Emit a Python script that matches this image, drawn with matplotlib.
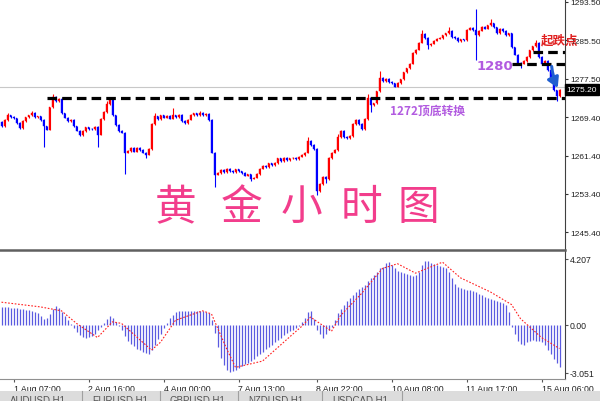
import numpy as np
import matplotlib.pyplot as plt
from matplotlib.patches import Rectangle
from matplotlib.lines import Line2D

plt.rcParams['font.family'] = ['Liberation Sans', 'Noto Sans CJK SC']

# hourly closes, gold
close = [1267.6, 1268.8, 1269.8, 1269.5, 1269.2, 1268.2, 1267.1, 1268.6, 1269.4, 1269.8,
         1270.3, 1269.4, 1269.6, 1268.8, 1267.5, 1266.8, 1271.5, 1273.6, 1272.8, 1273.2,
         1270.2, 1269.3, 1268.6, 1268.9, 1267.5, 1266.6, 1265.6, 1266.5, 1267.3, 1267.0,
         1266.9, 1267.4, 1265.8, 1269.0, 1270.5, 1272.2, 1273.0, 1269.8, 1267.8, 1266.5,
         1266.2, 1262.0, 1262.4, 1263.0, 1262.2, 1263.0, 1262.6, 1262.0, 1261.6, 1262.8,
         1268.0, 1269.6, 1269.0, 1269.8, 1269.3, 1269.7, 1269.1, 1269.8, 1269.4, 1269.9,
         1268.6, 1268.2, 1268.9, 1269.9, 1270.2, 1269.8, 1270.3, 1269.9, 1270.1, 1268.8,
         1262.0, 1257.4, 1257.8, 1258.4, 1258.0, 1258.6, 1258.2, 1257.9, 1258.5, 1258.1,
         1257.8, 1257.2, 1257.5, 1256.6, 1256.8, 1257.6, 1258.7, 1259.3, 1259.0, 1259.8,
         1259.4, 1259.9, 1260.8, 1260.3, 1260.9, 1260.5, 1260.8, 1261.0, 1260.6, 1261.2,
         1261.5, 1262.0, 1264.5, 1263.6, 1262.8, 1254.0, 1255.5, 1257.0, 1256.5, 1260.9,
         1262.0, 1262.6, 1265.2, 1266.5, 1265.3, 1265.0, 1265.5, 1268.0, 1268.9, 1268.0,
         1267.0, 1269.0, 1273.4, 1272.0, 1272.3, 1274.8, 1277.6, 1277.0, 1277.4, 1276.8,
         1276.5, 1275.8, 1276.6, 1277.3, 1278.8, 1279.6, 1280.6, 1282.8, 1283.5, 1285.0,
         1286.8, 1286.0, 1284.5, 1284.8, 1285.4, 1285.8, 1286.0, 1286.5, 1286.9, 1287.5,
         1286.2, 1286.0, 1285.3, 1285.7, 1285.5, 1287.7, 1288.1, 1287.6, 1286.5, 1287.5,
         1288.3, 1287.9, 1288.6, 1289.0, 1288.2, 1287.0, 1287.8, 1287.4, 1286.5, 1286.9,
         1284.0, 1282.5, 1280.8, 1280.6, 1281.2, 1282.0, 1283.4, 1284.2, 1285.0, 1282.0,
         1280.5, 1281.2, 1279.2, 1277.5, 1275.0, 1273.8, 1275.2]
first_open = 1268.4
wick_hi = {2: 1270.4, 10: 1270.8, 17: 1274.3, 35: 1272.8, 51: 1270.3, 57: 1271.4,
           66: 1270.8, 102: 1265.2, 112: 1266.0, 122: 1274.2, 126: 1279.0, 140: 1287.6,
           149: 1288.2, 158: 1292.0, 163: 1290.0, 178: 1285.6}
wick_lo = {14: 1263.2, 32: 1263.2, 41: 1257.6, 48: 1261.0, 71: 1254.9, 83: 1256.0,
           105: 1253.2, 108: 1255.6, 123: 1270.6, 142: 1283.6, 158: 1281.3, 173: 1279.6,
           185: 1272.8}

macd = [1.15, 1.15, 1.12, 1.10, 1.08, 1.05, 1.02, 1.00, 0.98, 0.95,
        0.92, 0.85, 0.75, 0.55, 0.40, 0.42, 0.70, 1.00, 1.20, 1.10,
        0.85, 0.60, 0.30, 0.05, -0.20, -0.45, -0.65, -0.75, -0.80, -0.75,
        -0.70, -0.55, -0.35, -0.10, 0.15, 0.35, 0.55, 0.45, 0.20, -0.05,
        -0.35, -0.70, -1.00, -1.20, -1.35, -1.50, -1.60, -1.70, -1.80, -1.85,
        -1.60, -1.25, -0.90, -0.55, -0.20, 0.15, 0.45, 0.65, 0.80, 0.88,
        0.92, 0.92, 0.90, 0.88, 0.90, 0.88, 0.90, 0.88, 0.85, 0.75,
        0.30, -0.50, -1.40, -2.10, -2.55, -2.85, -3.00, -2.95, -2.85, -2.75,
        -2.60, -2.50, -2.40, -2.30, -2.15, -2.00, -1.85, -1.70, -1.55, -1.40,
        -1.25, -1.10, -0.95, -0.80, -0.65, -0.50, -0.40, -0.30, -0.20, -0.05,
        0.20, 0.45, 0.80, 0.90, 0.40, -0.30, -0.60, -0.80, -0.55, -0.30,
        -0.10, 0.30, 0.75, 1.00, 1.30, 1.50, 1.70, 1.90, 2.10, 2.30,
        2.40, 2.55, 2.80, 3.00, 3.20, 3.40, 3.60, 3.70, 3.95, 4.00,
        3.85, 3.60, 3.45, 3.35, 3.30, 3.25, 3.20, 3.15, 3.20, 3.40,
        3.80, 4.10, 4.05, 3.95, 3.90, 3.85, 3.75, 3.70, 3.60, 3.40,
        3.00, 2.60, 2.40, 2.35, 2.30, 2.25, 2.20, 2.15, 2.10, 2.00,
        1.90, 1.80, 1.70, 1.65, 1.60, 1.50, 1.45, 1.40, 1.30, 0.80,
        -0.10, -0.60, -1.00, -1.20, -1.25, -1.10, -1.00, -0.95, -1.00, -1.05,
        -1.10, -1.30, -1.60, -1.85, -2.15, -2.45, -2.65]

signal_idx = [0, 13, 20, 25, 32, 37, 40, 50, 53, 58, 67, 70, 75, 78, 87, 97,
              100, 103, 110, 113, 120, 127, 132, 138, 147, 153, 163, 170, 173, 180, 186]
signal_val = [1.45, 1.15, 0.9, 0.1, -0.8, 0.2, 0.1, -1.6, -1.1, 0.3, 0.9, 0.7, -1.5, -2.7, -2.3, -0.6,
              -0.1, 0.5, -0.4, 0.6, 2.0, 3.6, 3.9, 3.3, 4.0, 3.0, 2.1, 1.3, 0.4, -0.8, -1.5]

price_ticks = [1293.50, 1285.50, 1277.50, 1269.40, 1261.40, 1253.40, 1245.40]
macd_ticks = [4.207, 0.0, -3.051]
macd_tick_labels = ['4.207', '0.00', '-3.051']
date_idx = [4, 29, 54, 79, 105, 130, 155, 180]
date_labels = ['1 Aug 07:00', '2 Aug 16:00', '4 Aug 00:00', '7 Aug 13:00',
               '8 Aug 22:00', '10 Aug 08:00', '11 Aug 17:00', '15 Aug 06:00']
last_price = 1275.20

W, H = 600, 402
fig = plt.figure(figsize=(6, 4.02), dpi=100)
ax = fig.add_axes([0, 1 - 250 / H, 565 / W, 250 / H])
am = fig.add_axes([0, 1 - 380 / H, 565 / W, 128 / H])

n = len(close)
idx = np.arange(n)
opens = [first_open] + close[:-1]
xlim = (-0.5, 565 / 3 - 0.5)

# candles
for i in range(n):
    o, c = opens[i], close[i]
    col = '#ff0000' if c >= o else '#0000ff'
    hi = wick_hi.get(i, max(o, c) + 0.15)
    lo = wick_lo.get(i, min(o, c) - 0.15)
    ax.vlines(i, lo, hi, color=col, lw=0.8)
    ax.add_patch(Rectangle((i - 0.33, min(o, c)), 0.66, max(abs(c - o), 0.12),
                           facecolor=col, edgecolor=col, lw=0.3))

ax.set_xlim(*xlim)
ax.set_ylim(1241.9, 1294.1)
ax.axhline(1275.75, color='#c8c8c8', lw=0.8, zorder=0)

# annotations
dash = dict(color='black', lw=2.3, linestyle=(0, (3, 1.6)), solid_capstyle='butt')
ax.plot([15.2, xlim[1]], [1273.45, 1273.45], **dash)
ax.plot([170.2, xlim[1]], [1280.55, 1280.55], **dash)
ax.plot([177.2, xlim[1]], [1283.1, 1283.1], **dash)
ax.text(129.5, 1270.9, '1272顶底转换', color='#b25be0', fontsize=8.5, fontweight='bold',
        family=['Noto Sans CJK SC'], va='center')
ax.text(158.5, 1280.3, '1280', color='#b25be0', fontsize=9.5, fontweight='bold', va='center',
        family=['DejaVu Sans'])
ax.text(179.8, 1285.6, '起跌点', color='#e02020', fontsize=9, fontweight='bold',
        family=['Noto Sans CJK SC'], va='center', clip_on=False, zorder=5)
ax.annotate('', xy=(185.8, 1275.0), xytext=(183.3, 1280.6),
            arrowprops=dict(arrowstyle='-|>,head_length=0.6,head_width=0.35',
                            color='#1f5fd0', lw=2.2, connectionstyle='arc3,rad=0.1'))
for ch, cx in zip('黄金小时图', [58, 80, 100, 120, 139]):
    ax.text(cx, 1250.6, ch, color='#f23d8c', fontsize=30, family=['Noto Sans CJK SC'],
            ha='center', va='center')

ax.yaxis.tick_right()
ax.set_yticks(price_ticks)
ax.set_yticklabels([f'{t:.2f}' for t in price_ticks])
ax.set_xticks([])
for s in ['top', 'left', 'bottom']:
    ax.spines[s].set_visible(False)
ax.spines['right'].set_color('#404040')
ax.tick_params(axis='y', direction='out', length=2.5, width=0.8, pad=1,
               labelsize=6, colors='#333333', labelcolor='#222222')
ax.text(1.003, (last_price - 1241.9) / (1294.1 - 1241.9), f'{last_price:.2f}',
        transform=ax.transAxes, fontsize=6, color='white', va='center', ha='left',
        bbox=dict(boxstyle='square,pad=0.2', fc='black', ec='black'), zorder=6)

# macd panel
am.vlines(idx, 0, macd, color='#5a5ae0', lw=0.9)
am.plot(signal_idx, signal_val, color='#ff2020', lw=0.8, linestyle=(0, (1.5, 1.5)))
am.set_xlim(*xlim)
am.set_ylim(-3.44, 4.71)
am.yaxis.tick_right()
am.set_yticks(macd_ticks)
am.set_yticklabels(macd_tick_labels)
am.set_xticks(date_idx)
am.set_xticklabels(date_labels, ha='left')
for s in ['top', 'left']:
    am.spines[s].set_visible(False)
am.spines['right'].set_color('#404040')
am.spines['bottom'].set_color('#909090')
am.tick_params(axis='both', direction='out', length=2.5, width=0.8, pad=1,
               labelsize=6.3, colors='#555555', labelcolor='#222222')

# panel separator and bottom tab strip
fig.add_artist(Line2D([0, 565 / W], [1 - 251 / H, 1 - 251 / H], color='#606060', lw=1.8))
fig.add_artist(Rectangle((0, 0), 1, 10 / H, transform=fig.transFigure,
                         facecolor='#dcdcdc', edgecolor='none'))
tabs = ['AUDUSD,H1', 'EURUSD,H1', 'GBPUSD,H1', 'NZDUSD,H1', 'USDCAD,H1']
tab_x = [0, 82, 160, 238, 322, 402]
for k, t in enumerate(tabs):
    fig.text((tab_x[k] + 10) / W, -4 / H, t, fontsize=7, color='#555555', va='bottom')
for x in tab_x[1:]:
    fig.add_artist(Line2D([x / W, x / W], [0, 10 / H], color='#a0a0a0', lw=0.8))

fig.savefig('out.png', dpi=100)
